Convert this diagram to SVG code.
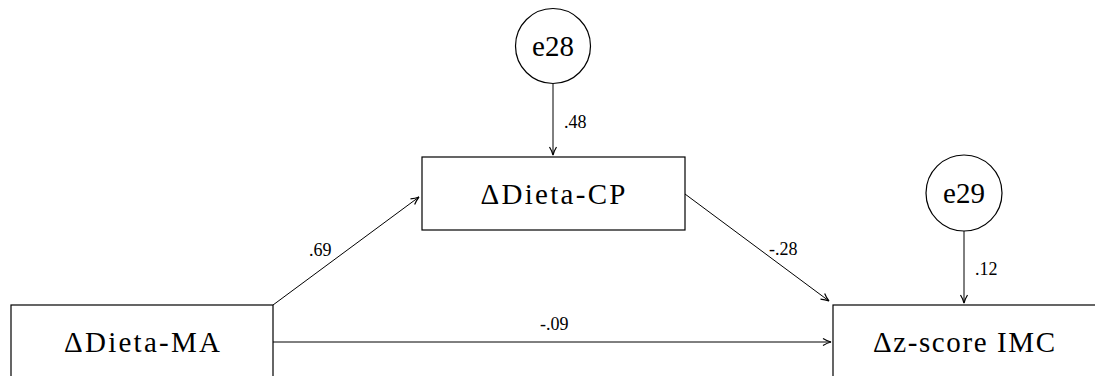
<svg xmlns="http://www.w3.org/2000/svg" width="1095" height="376" viewBox="0 0 1095 376">
<style>
.n{fill:#fff;stroke:#000;stroke-width:1.2}
.t{font-family:"Liberation Serif","DejaVu Serif",serif;font-size:29px;text-anchor:middle;fill:#000}
.l{font-family:"Liberation Serif","DejaVu Serif",serif;font-size:18px;fill:#000}
.c{stroke:#000;stroke-width:1;fill:none;marker-end:url(#ah)}
</style>
<defs>
<marker id="ah" viewBox="0 0 10 10" refX="9" refY="5" markerWidth="10" markerHeight="10" markerUnits="userSpaceOnUse" orient="auto">
<path d="M1,1.5 Q5,4 9,5 Q5,6 1,8.5" fill="none" stroke="#000" stroke-width="1.2"/>
</marker>
</defs>
<g id="connectors">
<line class="c" x1="553" y1="84" x2="553" y2="155"/>
<line class="c" x1="273" y1="305" x2="419" y2="197"/>
<line class="c" x1="685" y1="194" x2="829" y2="301"/>
<line class="c" x1="273" y1="342" x2="831" y2="342"/>
<line class="c" x1="964" y1="231" x2="964" y2="303"/>
<text class="l" x="564" y="128">.48</text>
<text class="l" x="309" y="256">.69</text>
<text class="l" x="769" y="255">-.28</text>
<text class="l" x="540" y="330">-.09</text>
<text class="l" x="975" y="275">.12</text>
</g>
<g id="e28">
<circle class="n" cx="553" cy="46" r="37.5"/>
<text class="t" x="553" y="56">e28</text>
</g>
<g id="e29">
<circle class="n" cx="964" cy="193" r="38"/>
<text class="t" x="964" y="203">e29</text>
</g>
<g id="cp">
<rect class="n" x="422" y="157" width="263" height="73"/>
<text class="t" x="553" y="204" textLength="145">ΔDieta-CP</text>
</g>
<g id="ma">
<rect class="n" x="11" y="305" width="262" height="80"/>
<text class="t" x="142" y="352" textLength="156">ΔDieta-MA</text>
</g>
<g id="imc">
<rect class="n" x="833" y="305" width="280" height="80"/>
<text class="t" x="964" y="352" textLength="182">Δz-score IMC</text>
</g>
</svg>
